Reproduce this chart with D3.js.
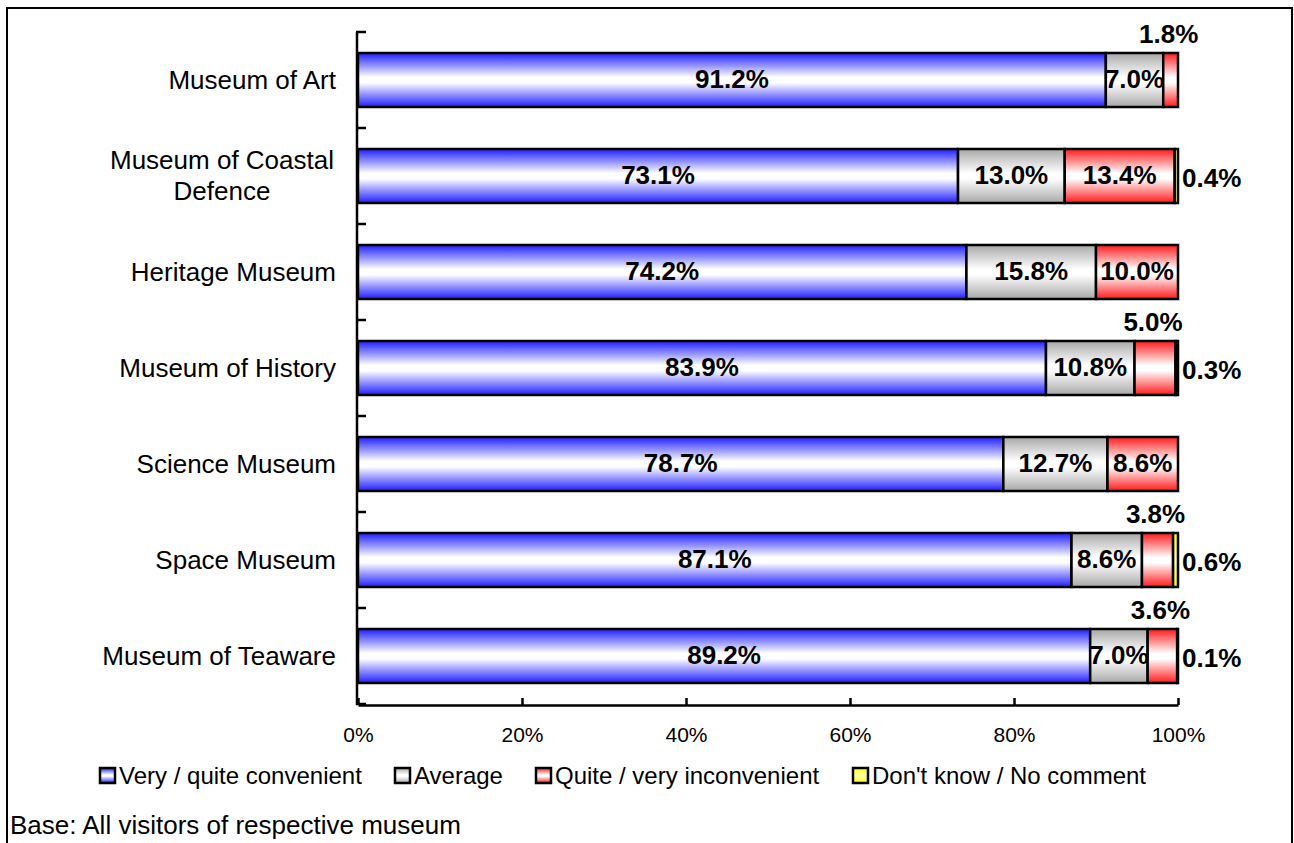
<!DOCTYPE html>
<html><head><meta charset="utf-8">
<script src="https://cdn.jsdelivr.net/npm/d3@7"></script>
<style>body{margin:0;background:#fff}svg{display:block}text{font-family:Arial,"Liberation Sans",sans-serif}</style>
</head><body>
<svg id="c" width="1294" height="843"></svg>
<script>
const categories = ["Museum of Art","Museum of Coastal Defence","Heritage Museum","Museum of History","Science Museum","Space Museum","Museum of Teaware"];
const seriesNames = ["Very / quite convenient","Average","Quite / very inconvenient","Don't know / No comment"];
const convenient   = [91.2, 73.1, 74.2, 83.9, 78.7, 87.1, 89.2];
const average      = [7.0, 13.0, 15.8, 10.8, 12.7, 8.6, 7.0];
const inconvenient = [1.8, 13.4, 10.0, 5.0, 8.6, 3.8, 3.6];
const dontKnow     = [0, 0.4, 0, 0.3, 0, 0.6, 0.1];
const xTicks = [0, 20, 40, 60, 80, 100];
const footnote = "Base: All visitors of respective museum";

const series = [convenient, average, inconvenient, dontKnow];
const colors = ["#1e1eff", "#a8a8a8", "#ff1a1a", "#ffff00"];

const svg = d3.select("#c");
const defs = svg.append("defs");
colors.forEach((c, i) => {
  const g = defs.append("linearGradient").attr("id", "g" + i).attr("x1", 0).attr("y1", 0).attr("x2", 0).attr("y2", 1);
  const mid = i === 3 ? "#ffffa0" : "#ffffff";
  g.append("stop").attr("offset", "0%").attr("stop-color", c);
  g.append("stop").attr("offset", "45%").attr("stop-color", mid);
  g.append("stop").attr("offset", "55%").attr("stop-color", mid);
  g.append("stop").attr("offset", "100%").attr("stop-color", c);
});

// outer frame
svg.append("rect").attr("x", 7).attr("y", 8).attr("width", 1285).attr("height", 900)
  .attr("fill", "none").attr("stroke", "#000").attr("stroke-width", 2);

const x = d3.scaleLinear().domain([0, 100]).range([358, 1178]);
const y = d3.scaleBand().domain(categories).range([32, 704]).paddingInner(0.4375).paddingOuter(0.21875);
const band = d3.scaleBand().domain(categories).range([32, 704]);

// data rows, normalized to 100%
const rows = categories.map((c, i) => {
  const vals = series.map(s => s[i]);
  const tot = d3.sum(vals);
  let acc = 0;
  return vals.map((v, k) => { const s = acc; acc += v / tot * 100; return {cat: c, k, v, x0: s, x1: acc}; });
});

const g = svg.append("g");
rows.forEach(r => {
  r.forEach(d => {
    if (d.v <= 0) return;
    g.append("rect").attr("x", x(d.x0)).attr("y", y(d.cat))
      .attr("width", x(d.x1) - x(d.x0)).attr("height", y.bandwidth())
      .attr("fill", `url(#g${d.k})`).attr("stroke", "#000").attr("stroke-width", 2.5);
  });
});

// value labels
rows.forEach(r => {
  r.forEach(d => {
    if (d.v <= 0) return;
    const cy = y(d.cat) + y.bandwidth() / 2;
    const t = g.append("text").attr("font-weight", "bold").attr("font-size", 26)
      .attr("fill", "#000").text(d.v.toFixed(1) + "%");
    if (d.k === 3) {
      t.attr("x", x(100) + 4).attr("y", cy + 4).attr("dominant-baseline", "middle");
    } else if (d.k === 2 && d.v < 6) {
      t.attr("x", x((d.x0 + d.x1) / 2) - 2).attr("y", y(d.cat) - 17).attr("text-anchor", "middle").attr("dominant-baseline", "middle");
    } else {
      t.attr("x", x((d.x0 + d.x1) / 2)).attr("y", cy + 1).attr("text-anchor", "middle").attr("dominant-baseline", "middle");
    }
  });
});

// y axis
const ya = svg.append("g");
ya.append("line").attr("x1", 357).attr("x2", 357).attr("y1", 32).attr("y2", 705).attr("stroke", "#000").attr("stroke-width", 2.5);
const bounds = categories.map(c => band(c)).concat([704]);
bounds.forEach(b => ya.append("line").attr("x1", 356).attr("x2", 366).attr("y1", b).attr("y2", b).attr("stroke", "#000").attr("stroke-width", 2.5));
categories.forEach(c => {
  const cy = band(c) + band.bandwidth() / 2;
  const words = c === "Museum of Coastal Defence" ? ["Museum of Coastal", "Defence"] : [c];
  const t = ya.append("text").attr("text-anchor", "middle").attr("font-size", 26).attr("fill", "#000");
  if (words.length === 1) {
    t.attr("text-anchor", "end").attr("x", 336).attr("y", cy + 9).text(c);
  } else {
    t.append("tspan").attr("x", 222).attr("y", cy - 7).text(words[0]);
    t.append("tspan").attr("x", 222).attr("y", cy + 24).text(words[1]);
  }
});

// x axis
const xa = svg.append("g").attr("transform", "translate(0,705)")
  .call(d3.axisBottom(x).tickValues(xTicks).tickFormat(d => d + "%").tickSizeInner(-7).tickSizeOuter(0).tickPadding(22));
xa.select(".domain").attr("stroke", "#000").attr("stroke-width", 2.5);
xa.selectAll(".tick line").attr("stroke", "#000").attr("stroke-width", 2.5);
xa.selectAll(".tick text").attr("font-size", 21).attr("font-family", "Arial, 'Liberation Sans', sans-serif").attr("fill", "#000");

// legend
const legX = [100, 395, 536, 853];
const lg = svg.append("g");
seriesNames.forEach((n, i) => {
  lg.append("rect").attr("x", legX[i]).attr("y", 768).attr("width", 15).attr("height", 15)
    .attr("fill", `url(#g${i})`).attr("stroke", "#000").attr("stroke-width", 2.5);
  lg.append("text").attr("x", legX[i] + 19).attr("y", 784).attr("font-size", 24).attr("fill", "#000").text(n);
});

svg.append("text").attr("x", 10).attr("y", 834).attr("font-size", 26).attr("fill", "#000").text(footnote);
</script>
</body></html>
